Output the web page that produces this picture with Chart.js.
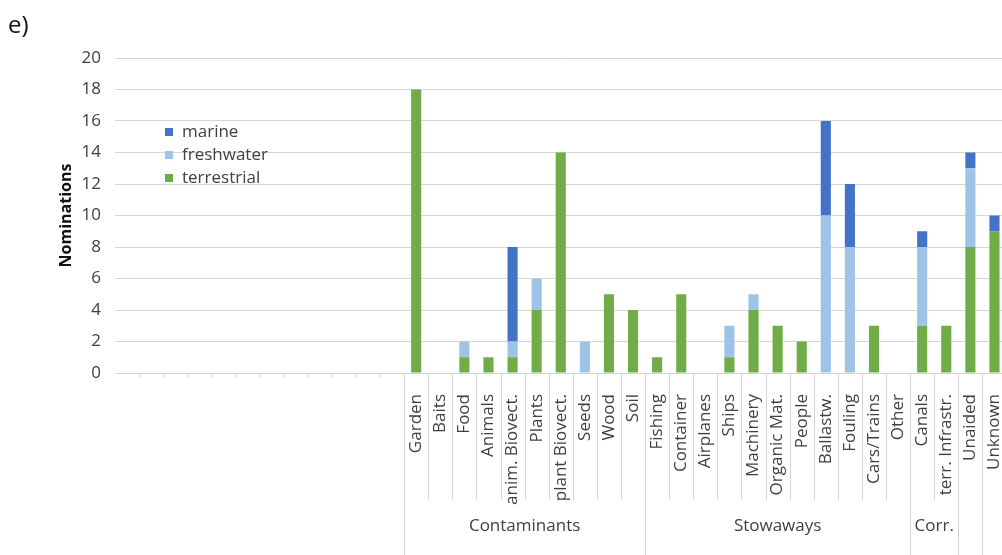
<!DOCTYPE html>
<html>
<head>
<meta charset="utf-8">
<script src="https://cdn.jsdelivr.net/npm/chart.js@4.4.1/dist/chart.umd.min.js"></script>
<style>
  body { margin: 0; background: #fff; overflow: hidden; font-family: "Open Sans", sans-serif; }
  #wrap { position: absolute; left: 0; top: 0; width: 1028px; height: 555px; }
  #panel { position: absolute; left: 8px; top: 7px; font-size: 24px; color: #111; }
  #legend { position: absolute; left: 165px; top: 119px; font-size: 17px; color: #404040; }
  #legend div { height: 23px; line-height: 23px; white-space: nowrap; }
  #legend span { display: inline-block; width: 8px; height: 8px; margin-right: 9px; vertical-align: 1px; }
</style>
</head>
<body>
<div id="wrap">
  <canvas id="chart" width="1028" height="555"></canvas>
  <div id="panel">e)</div>
  <div id="legend"></div>
</div>
<script>
// 12 empty slots on the left, then the real pathway categories
const categories = ["", "", "", "", "", "", "", "", "", "", "", "",
  "Garden", "Baits", "Food", "Animals", "anim. Biovect.", "Plants", "plant Biovect.", "Seeds", "Wood", "Soil",
  "Fishing", "Container", "Airplanes", "Ships", "Machinery", "Organic Mat.", "People", "Ballastw.", "Fouling", "Cars/Trains", "Other",
  "Canals", "terr. Infrastr.",
  "Unaided",
  "Unknown"];

// second-level axis: group name and how many categories it covers
const groupNames = ["", "Contaminants", "Stowaways", "Corr.", "", ""];
const groupSizes = [12, 10, 11, 2, 1, 1];

const terrestrial = [null, null, null, null, null, null, null, null, null, null, null, null,
  18, 0, 1, 1, 1, 4, 14, 0, 5, 4,
  1, 5, 0, 1, 4, 3, 2, 0, 0, 3, 0,
  3, 3,
  8,
  9];
const freshwater = [null, null, null, null, null, null, null, null, null, null, null, null,
  0, 0, 1, 0, 1, 2, 0, 2, 0, 0,
  0, 0, 0, 2, 1, 0, 0, 10, 8, 0, 0,
  5, 0,
  5,
  0];
const marine = [null, null, null, null, null, null, null, null, null, null, null, null,
  0, 0, 0, 0, 6, 0, 0, 0, 0, 0,
  0, 0, 0, 0, 0, 0, 0, 6, 4, 0, 0,
  1, 0,
  1,
  1];

const seriesNames = ["terrestrial", "freshwater", "marine"];
const colors = ["#70AD47", "#9DC3E6", "#4472C4"];

const lineColor = "#d6d6d6";
const textColor = "#404040";
const font = "Open Sans";

// draws the category dividers and the group labels under the x axis
const groupAxis = {
  id: "groupAxis",
  afterDraw(chart) {
    const ctx = chart.ctx;
    const x = chart.scales.x;
    const n = categories.length;
    const w = (x.right - x.left) / n;
    const top = x.top;
    const bottom = chart.height;
    const shortEnd = 500;

    // boundaries of groups
    const bounds = [0];
    groupSizes.forEach(s => bounds.push(bounds[bounds.length - 1] + s));

    ctx.save();
    ctx.strokeStyle = lineColor;
    ctx.lineWidth = 1;
    for (let i = 1; i <= n; i++) {
      const px = Math.round(x.left + i * w) + 0.5;
      let end;
      if (bounds.includes(i) && i >= groupSizes[0]) end = bottom;
      else if (i < groupSizes[0]) end = top + 5;
      else end = shortEnd;
      ctx.beginPath();
      ctx.moveTo(px, top);
      ctx.lineTo(px, end);
      ctx.stroke();
    }

    ctx.fillStyle = textColor;
    ctx.font = "17px '" + font + "'";
    ctx.textAlign = "center";
    ctx.textBaseline = "middle";
    groupNames.forEach((name, g) => {
      if (!name) return;
      const cx = x.left + (bounds[g] + bounds[g + 1]) / 2 * w;
      ctx.fillText(name, cx, 526);
    });
    ctx.restore();
  }
};

const datasets = seriesNames.map((name, i) => ({
  label: name,
  data: [terrestrial, freshwater, marine][i],
  backgroundColor: colors[i],
  borderWidth: 0,
  categoryPercentage: 1.0,
  barPercentage: 0.42
}));

// legend, top entry is the top of the stack
document.getElementById("legend").innerHTML = seriesNames.map((name, i) =>
  `<div><span style="background:${colors[i]}"></span>${name}</div>`).reverse().join("");

new Chart(document.getElementById("chart").getContext("2d"), {
  type: "bar",
  data: { labels: categories, datasets: datasets },
  options: {
    responsive: false,
    animation: false,
    layout: { padding: { top: 58, right: 10, left: 0, bottom: 0 } },
    plugins: { legend: { display: false }, tooltip: { enabled: false } },
    scales: {
      x: {
        stacked: true,
        grid: { display: false },
        border: { display: false },
        ticks: {
          autoSkip: false,
          maxRotation: 90,
          minRotation: 90,
          padding: 13,
          color: textColor,
          font: { family: font, size: 17 }
        },
        afterFit(scale) { scale.height = 182; }
      },
      y: {
        stacked: true,
        min: 0,
        max: 20,
        grid: { color: lineColor, drawTicks: false },
        border: { display: false },
        ticks: {
          stepSize: 2,
          padding: 14,
          color: textColor,
          font: { family: font, size: 17 }
        },
        title: {
          display: true,
          text: "Nominations",
          color: "#111",
          padding: { top: 57, bottom: 0 },
          font: { family: font, size: 16, weight: "bold" }
        },
        afterFit(scale) { scale.width = 115; }
      }
    }
  },
  plugins: [groupAxis]
});
</script>
</body>
</html>
